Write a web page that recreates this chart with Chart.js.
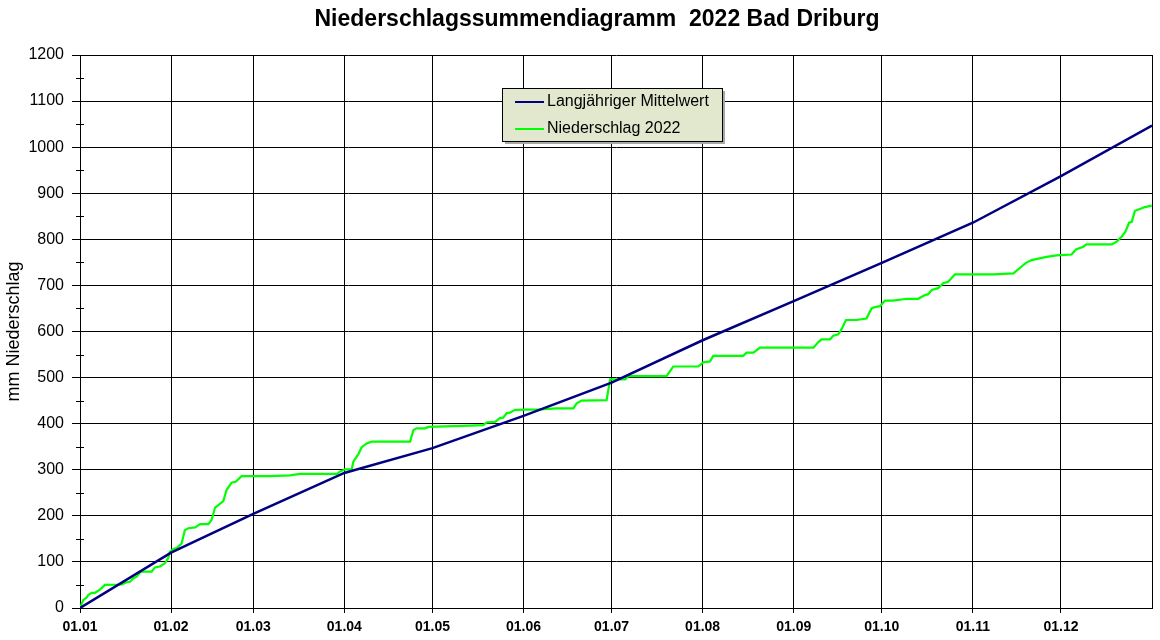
<!DOCTYPE html>
<html><head><meta charset="utf-8">
<script src="https://cdn.jsdelivr.net/npm/chart.js@4"></script>
<style>html,body{margin:0;padding:0;background:#fff;}</style>
</head><body>
<canvas id="c" width="1160" height="640"></canvas>
<script>
const chartTitle = 'Niederschlagssummendiagramm  2022 Bad Driburg';
const yAxisTitle = 'mm Niederschlag';
const seriesNames = ['Langjähriger Mittelwert', 'Niederschlag 2022'];
const monthDays = [0, 31, 59, 90, 120, 151, 181, 212, 243, 273, 304, 334];
const monthLabels = ['01.01','01.02','01.03','01.04','01.05','01.06','01.07','01.08','01.09','01.10','01.11','01.12'];
const meanDays = [0, 31, 59, 90, 120, 151, 181, 212, 243, 273, 304, 334, 365];
const meanValues = [0, 120, 204, 293, 347, 417, 489, 581, 666, 749, 836, 937, 1047];
const rainDays = [0,1.1,2.3,2.8,4,5.1,6.8,8.5,14.2,15.9,17,18.1,19.3,20.4,21,24.4,25.5,27.2,28.9,30,30.6,31.8,32.9,34.6,35.7,36.9,39.2,40.9,43.7,44.8,46,48.8,49.9,51.6,53,55,64.7,71.5,74.9,87.4,88.5,90.2,92.5,93.1,94.8,95.9,97.6,99.3,112.4,113.5,114.6,117.5,118.6,130.5,137.3,138.5,141.3,143,144.1,145.3,146.4,148.1,156.6,162.3,168,169.1,170.8,179.3,180.5,185.6,186.7,199.7,202,210.5,212.2,214.5,215.6,225.8,227,229.3,231.5,249.7,251.4,252.5,255.4,256.5,258.2,259.3,260.8,264.4,267.8,269.5,270.7,272.4,274.1,276.9,281.5,285.4,287.7,288.8,290,292.2,293.9,295.6,297.9,311,317.8,320.6,322.1,324,329.1,332.5,337.6,339.1,341.6,342.7,351.3,353,354.7,356,357.2,358.1,359.2,360.9,362.6,364.9];
const rainValues = [0,17,23,28,33,33,40,50,51,56,57,64,68,77,79,79,88,90,97,108,122,128,130,140,169,173,175,182,182,191,218,232,256,272,274,286,286,288,291,291,296,301,301,318,334,349,357,361,361,386,390,390,393,395,397,403,404,412,413,423,424,430,431,433,433,444,450,451,496,496,503,503,524,524,533,535,547,547,554,554,565,565,577,583,583,591,594,605,625,625,628,650,653,655,667,667,671,671,679,681,690,694,705,708,724,724,726,741,749,755,762,765,767,778,784,789,789,795,806,817,836,838,862,866,870,873];

const seriesColors = ['#000080', '#00ff00'];
const FONT = "'Liberation Sans', Arial, sans-serif";

const toPoints = (xs, ys) => xs.map((x, i) => ({x: x, y: ys[i]}));

const decorPlugin = {
  id: 'decor',
  afterDraw(chart) {
    const ctx = chart.ctx;
    const a = chart.chartArea;
    const y = chart.scales.y;
    ctx.save();
    ctx.strokeStyle = '#000';
    ctx.lineWidth = 1;
    ctx.beginPath();
    ctx.moveTo(Math.round(a.right) + 0.5, a.top);
    ctx.lineTo(Math.round(a.right) + 0.5, a.bottom);
    ctx.stroke();
    y.ticks.forEach(t => {
      if (t.value % 100 !== 0) {
        const py = Math.round(y.getPixelForValue(t.value)) + 0.5;
        ctx.beginPath();
        ctx.moveTo(a.left - 4, py);
        ctx.lineTo(a.left + 4, py);
        ctx.stroke();
      }
    });
    ctx.fillStyle = '#000';
    ctx.font = 'bold 23px ' + FONT;
    ctx.textAlign = 'center';
    ctx.textBaseline = 'alphabetic';
    ctx.fillText(chartTitle, 597, 26);
    const lx = 502, ly = 88, lw = 220, lh = 53;
    ctx.fillStyle = '#a8a8a8';
    ctx.fillRect(lx + 3, ly + 3, lw, lh);
    ctx.fillStyle = '#e2e8cd';
    ctx.fillRect(lx, ly, lw, lh);
    ctx.strokeStyle = '#000';
    ctx.strokeRect(lx + 0.5, ly + 0.5, lw, lh);
    ctx.font = '16px ' + FONT;
    ctx.textAlign = 'left';
    ctx.textBaseline = 'middle';
    seriesNames.forEach((n, i) => {
      const yy = ly + 14 + i * 27;
      ctx.strokeStyle = seriesColors[i];
      ctx.lineWidth = 2;
      ctx.beginPath();
      ctx.moveTo(lx + 13, yy);
      ctx.lineTo(lx + 42, yy);
      ctx.stroke();
      ctx.fillStyle = '#000';
      ctx.fillText(n, lx + 45, yy);
    });
    ctx.restore();
  }
};

new Chart(document.getElementById('c'), {
  type: 'line',
  data: {
    datasets: [
      { label: seriesNames[0], data: toPoints(meanDays, meanValues), borderColor: seriesColors[0], borderWidth: 2.5, pointRadius: 0, tension: 0, fill: false },
      { label: seriesNames[1], data: toPoints(rainDays, rainValues), borderColor: seriesColors[1], borderWidth: 2.2, pointRadius: 0, tension: 0, fill: false }
    ]
  },
  options: {
    responsive: false,
    animation: false,
    devicePixelRatio: 1,
    layout: { padding: { top: 55, right: 8, left: 0, bottom: 0 } },
    plugins: { legend: { display: false }, title: { display: false }, tooltip: { enabled: false } },
    scales: {
      x: {
        type: 'linear', min: 0, max: 365,
        afterBuildTicks: s => { s.ticks = monthDays.map(v => ({ value: v })); },
        afterFit: s => { s.height = 32; },
        ticks: {
          autoSkip: false, maxRotation: 0, padding: 6, color: '#000',
          font: { family: FONT, size: 14, weight: 'bold' },
          callback: (v) => monthLabels[monthDays.indexOf(v)]
        },
        grid: { color: '#000', lineWidth: 1, tickLength: 5, tickColor: '#000' },
        border: { display: true, color: '#000', width: 1 }
      },
      y: {
        min: 0, max: 1200,
        afterFit: s => { s.width = 80; },
        ticks: {
          stepSize: 50, padding: 8, color: '#000',
          font: { family: FONT, size: 16 },
          callback: (v) => (v % 100 === 0 ? String(v) : '')
        },
        grid: {
          lineWidth: 1, tickLength: 8,
          color: c => (c.tick && c.tick.value % 100 === 0 ? '#000' : 'rgba(0,0,0,0)'),
          tickColor: c => (c.tick && c.tick.value % 100 === 0 ? '#000' : 'rgba(0,0,0,0)')
        },
        border: { display: true, color: '#000', width: 1 },
        title: { display: true, text: yAxisTitle, color: '#000', font: { family: FONT, size: 18 }, padding: { top: 3, bottom: 0 } }
      }
    }
  },
  plugins: [decorPlugin]
});
</script>
</body></html>
